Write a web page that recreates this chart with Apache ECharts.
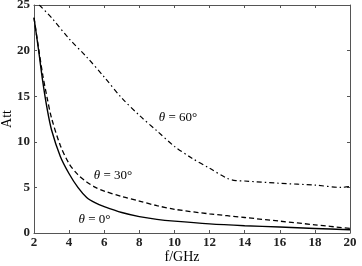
<!DOCTYPE html>
<html>
<head>
<meta charset="utf-8">
<script src="https://cdn.jsdelivr.net/npm/echarts@6/dist/echarts.min.js"></script>
<style>
  html, body { margin: 0; padding: 0; background: #fff; }
  #chart { width: 362px; height: 266px; }
</style>
</head>
<body>
<div id="chart"></div>
<script>
// frequency (GHz) / attenuation pairs
const freq0 = [2, 2.25, 2.5, 2.75, 3, 3.5, 4, 4.5, 5, 5.5, 6, 7, 8, 9, 10, 12, 14, 16, 18, 20];
const att0 = [23.6, 20.2, 16.6, 13.6, 11.3, 8.4, 6.5, 5.0, 3.9, 3.3, 2.9, 2.25, 1.8, 1.5, 1.3, 1.0, 0.8, 0.65, 0.5, 0.35];

const freq30 = [2, 2.25, 2.5, 2.75, 3, 3.5, 4, 4.5, 5, 5.5, 6, 7, 8, 9, 10, 12, 14, 16, 18, 20];
const att30 = [23.6, 20.4, 17.3, 14.8, 12.6, 9.6, 7.6, 6.4, 5.6, 5.0, 4.6, 4.0, 3.5, 3.0, 2.6, 2.1, 1.7, 1.3, 0.9, 0.5];

const freq60 = [2.3, 3, 4, 5, 6, 7, 8, 9, 10, 11, 12, 13, 13.5, 14, 16, 18, 19.5, 20];
const att60 = [25, 23.6, 21.3, 19.3, 17.1, 14.8, 12.9, 11.2, 9.5, 8.2, 7.1, 6.0, 5.75, 5.7, 5.45, 5.25, 5.0, 5.1];

// label anchors in data units
const labelNames = ['0', '30', '60'];
const labelPos = [[5.45, 1.5], [6.5, 6.3], [10.2, 12.7]];

const pairs = (xs, ys) => xs.map((x, i) => [x, ys[i]]);

const serif = '"Liberation Serif", "Times New Roman", serif';
const axisColor = '#555';

const thetaLabel = (idx) => ({
  symbol: 'circle',
  symbolSize: 1,
  itemStyle: { color: 'rgba(0,0,0,0)' },
  data: [{
    coord: labelPos[idx],
    label: {
      show: true,
      position: 'inside',
      formatter: '{i|θ} = ' + labelNames[idx] + '°',
      fontFamily: serif,
      fontSize: 13,
      color: '#000',
      rich: { i: { fontFamily: serif, fontStyle: 'italic', fontSize: 13, color: '#000' } }
    }
  }]
});

const mychart = echarts.init(document.getElementById('chart'));
const option = {
  animation: false,
  backgroundColor: '#fff',
  grid: { left: 34, right: 12, top: 5, bottom: 33, outerBoundsMode: 'none' },
  xAxis: [{
    type: 'value', min: 2, max: 20, interval: 2,
    name: 'f/GHz', nameLocation: 'middle', nameGap: 17, nameMoveOverlap: false,
    nameTextStyle: { fontFamily: serif, fontSize: 14, color: '#000', padding: [0, 20, 0, 0] },
    axisLine: { show: true, onZero: false, lineStyle: { color: axisColor, width: 1 } },
    axisTick: { inside: true, length: 3, lineStyle: { color: axisColor } },
    axisLabel: { fontFamily: serif, fontSize: 13, fontWeight: 'bold', color: '#222', margin: 3 },
    splitLine: { show: false }
  }, {
    type: 'value', min: 2, max: 20, interval: 2, position: 'top',
    axisLine: { show: true, onZero: false, lineStyle: { color: axisColor, width: 1 } },
    axisTick: { inside: true, length: 3, lineStyle: { color: axisColor } },
    axisLabel: { show: false }, splitLine: { show: false }
  }],
  yAxis: [{
    type: 'value', min: 0, max: 25, interval: 5,
    name: 'Att', nameLocation: 'middle', nameGap: 20, nameMoveOverlap: false,
    nameTextStyle: { fontFamily: serif, fontSize: 14, color: '#000' },
    axisLine: { show: true, onZero: false, lineStyle: { color: axisColor, width: 1 } },
    axisTick: { inside: true, length: 3, lineStyle: { color: axisColor } },
    axisLabel: { fontFamily: serif, fontSize: 13, fontWeight: 'bold', color: '#222', margin: 4 },
    splitLine: { show: false }
  }, {
    type: 'value', min: 0, max: 25, interval: 5, position: 'right',
    axisLine: { show: true, onZero: false, lineStyle: { color: axisColor, width: 1 } },
    axisTick: { inside: true, length: 3, lineStyle: { color: axisColor } },
    axisLabel: { show: false }, splitLine: { show: false }
  }],
  series: [{
    type: 'line', smooth: 0.3, symbol: 'none',
    data: pairs(freq0, att0),
    lineStyle: { color: '#000', width: 1.4, type: 'solid' },
    markPoint: thetaLabel(0)
  }, {
    type: 'line', smooth: 0.3, symbol: 'none',
    data: pairs(freq30, att30),
    lineStyle: { color: '#000', width: 1.3, type: [5, 3] },
    markPoint: thetaLabel(1)
  }, {
    type: 'line', smooth: 0.3, symbol: 'none',
    data: pairs(freq60, att60),
    lineStyle: { color: '#000', width: 1.2, type: [5, 3, 1.5, 3] },
    markPoint: thetaLabel(2)
  }]
};
mychart.setOption(option);
</script>
</body>
</html>
